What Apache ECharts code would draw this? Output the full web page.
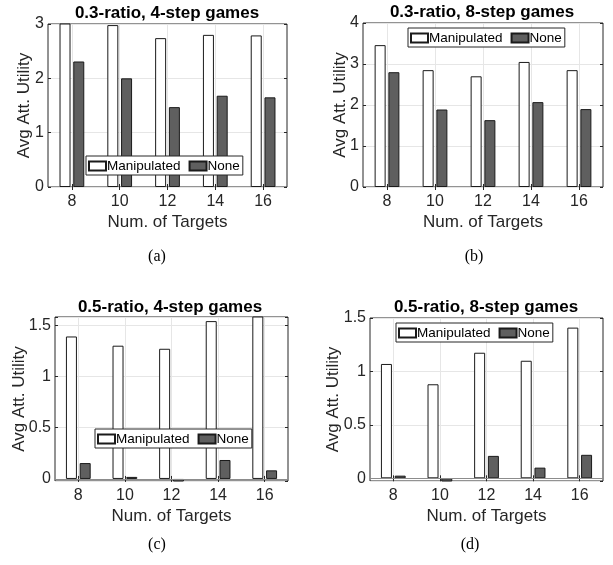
<!DOCTYPE html>
<html>
<head>
<meta charset="utf-8">
<script src="https://cdn.jsdelivr.net/npm/echarts@6/dist/echarts.min.js"></script>
<style>
html,body{margin:0;padding:0;background:#fff;}
#chart{width:613px;height:565px;}
</style>
</head>
<body>
<div id="chart"></div>
<script>
// ---- data ----
const categories = ['8', '10', '12', '14', '16'];
const seriesNames = ['Manipulated', 'None'];
const panelTitles = ['0.3-ratio, 4-step games', '0.3-ratio, 8-step games', '0.5-ratio, 4-step games', '0.5-ratio, 8-step games'];
const captions = ['(a)', '(b)', '(c)', '(d)'];
const manipA = [3.1, 2.98, 2.74, 2.80, 2.79];
const noneA  = [2.31, 2.00, 1.47, 1.68, 1.65];
const manipB = [3.46, 2.85, 2.70, 3.05, 2.85];
const noneB  = [2.80, 1.89, 1.63, 2.07, 1.90];
const manipC = [1.39, 1.30, 1.27, 1.54, 1.62];
const noneC  = [0.155, 0.02, -0.03, 0.185, 0.084];
const manipD = [1.07, 0.88, 1.175, 1.10, 1.41];
const noneD  = [0.025, -0.03, 0.21, 0.10, 0.22];
const yRanges = [[0, 3], [0, 4], [-0.02, 1.58], [-0.025, 1.5]];

// ---- layout ----
const FONT = "'Liberation Sans', Arial, Helvetica, sans-serif";
const INK = '#262626';
const panels = [
  {grid: {left: 48, top: 24, width: 239, height: 163}, legend: {left: 86, top: 156}, title: [167, 13], cap: [157, 257], yGap: 15, manip: manipA, none: noneA},
  {grid: {left: 363, top: 23, width: 240, height: 164}, legend: {left: 408, top: 28}, title: [482, 12], cap: [474, 257], yGap: 14, manip: manipB, none: noneB},
  {grid: {left: 55, top: 317, width: 233, height: 164}, legend: {left: 95, top: 429}, title: [170, 307], cap: [157, 545], yGap: 27, manip: manipC, none: noneC},
  {grid: {left: 370, top: 318, width: 233, height: 163}, legend: {left: 396, top: 323}, title: [486, 307], cap: [470, 545], yGap: 28, manip: manipD, none: noneD}
];

const grids = [], xAxes = [], yAxes = [], series = [], legends = [], graphics = [];
panels.forEach((p, i) => {
  grids.push(Object.assign({show: true, borderColor: INK, borderWidth: 1, backgroundColor: '#fff'}, p.grid));
  const [ymin, ymax] = yRanges[i];
  const fixedInterval = (ymin === 0);
  xAxes.push({
    type: 'category', gridIndex: i, data: categories, position: 'bottom',
    axisLine: {show: false},
    axisTick: {show: true, inside: true, length: 3, alignWithLabel: true, lineStyle: {color: INK}},
    axisLabel: {fontFamily: FONT, fontSize: 16, color: INK, margin: 7},
    splitLine: {show: true, alignWithLabel: true, lineStyle: {color: '#e6e6e6'}},
    name: 'Num. of Targets', nameLocation: 'middle', nameGap: 27, nameMoveOverlap: false,
    nameTextStyle: {fontFamily: FONT, fontSize: 17, color: INK}
  });
  xAxes.push({
    type: 'category', gridIndex: i, data: categories, position: 'top',
    axisLine: {show: false},
    axisTick: {show: true, inside: true, length: 3, alignWithLabel: true, lineStyle: {color: INK}},
    axisLabel: {show: false}, splitLine: {show: false}
  });
  const yBase = {
    type: 'value', gridIndex: i, min: ymin, max: ymax,
    axisLine: {show: false},
    axisTick: {show: true, inside: true, length: 3, lineStyle: {color: INK}}
  };
  if (fixedInterval) yBase.interval = 1; else yBase.splitNumber = 3;
  yAxes.push(Object.assign({}, yBase, {
    position: 'left',
    axisLabel: {fontFamily: FONT, fontSize: 16, color: INK, margin: 4, showMinLabel: fixedInterval, showMaxLabel: true,
      formatter: v => (Math.abs(v * 2 - Math.round(v * 2)) < 1e-6 ? String(v) : '')},
    splitLine: {show: true, lineStyle: {color: '#e6e6e6'}},
    name: 'Avg Att. Utility', nameLocation: 'middle', nameGap: p.yGap, nameRotate: 90, nameMoveOverlap: false,
    nameTextStyle: {fontFamily: FONT, fontSize: 17, color: INK}
  }));
  yAxes.push(Object.assign({}, yBase, {
    position: 'right', axisLabel: {show: false}, splitLine: {show: false}
  }));
  series.push({
    name: seriesNames[0], type: 'bar', xAxisIndex: 2 * i, yAxisIndex: 2 * i,
    data: p.manip, barWidth: 11, barGap: '25%', clip: true,
    itemStyle: {color: '#ffffff', borderColor: '#1a1a1a', borderWidth: 1},
    emphasis: {disabled: true}, animation: false
  });
  const noneSeries = {
    name: seriesNames[1], type: 'bar', xAxisIndex: 2 * i, yAxisIndex: 2 * i,
    data: p.none, barWidth: 11, barGap: '25%', clip: true,
    itemStyle: {color: '#5f5f5f', borderColor: '#1a1a1a', borderWidth: 1},
    emphasis: {disabled: true}, animation: false
  };
  if (ymin < 0) {
    noneSeries.markLine = {silent: true, symbol: 'none', label: {show: false},
      lineStyle: {color: '#8c8c8c', type: 'solid', width: 1}, data: [{yAxis: 0}], animation: false};
  }
  series.push(noneSeries);
  legends.push({
    left: p.legend.left, top: p.legend.top, orient: 'horizontal',
    data: seriesNames, icon: 'rect', itemWidth: 17, itemHeight: 9, itemGap: 8,
    backgroundColor: '#fff', borderColor: INK, borderWidth: 1, padding: [3, 3, 2, 2],
    textStyle: {fontFamily: FONT, fontSize: 13.5, color: '#000', padding: [0, 0, 0, -4]},
    selectedMode: false
  });
  graphics.push({type: 'text', x: p.title[0], y: p.title[1], style: {text: panelTitles[i], fontFamily: FONT, fontSize: 17, fontWeight: 'bold', fill: '#000', align: 'center', verticalAlign: 'middle'}});
  graphics.push({type: 'text', x: p.cap[0], y: p.cap[1], style: {text: captions[i], fontFamily: "'Liberation Serif', 'Times New Roman', serif", fontSize: 16, fill: '#000', align: 'center', verticalAlign: 'middle'}});
});

const chart = echarts.init(document.getElementById('chart'), null, {renderer: 'canvas'});
chart.setOption({
  animation: false,
  backgroundColor: '#fff',
  grid: grids, xAxis: xAxes, yAxis: yAxes, series: series, legend: legends, graphic: graphics
});
</script>
</body>
</html>
